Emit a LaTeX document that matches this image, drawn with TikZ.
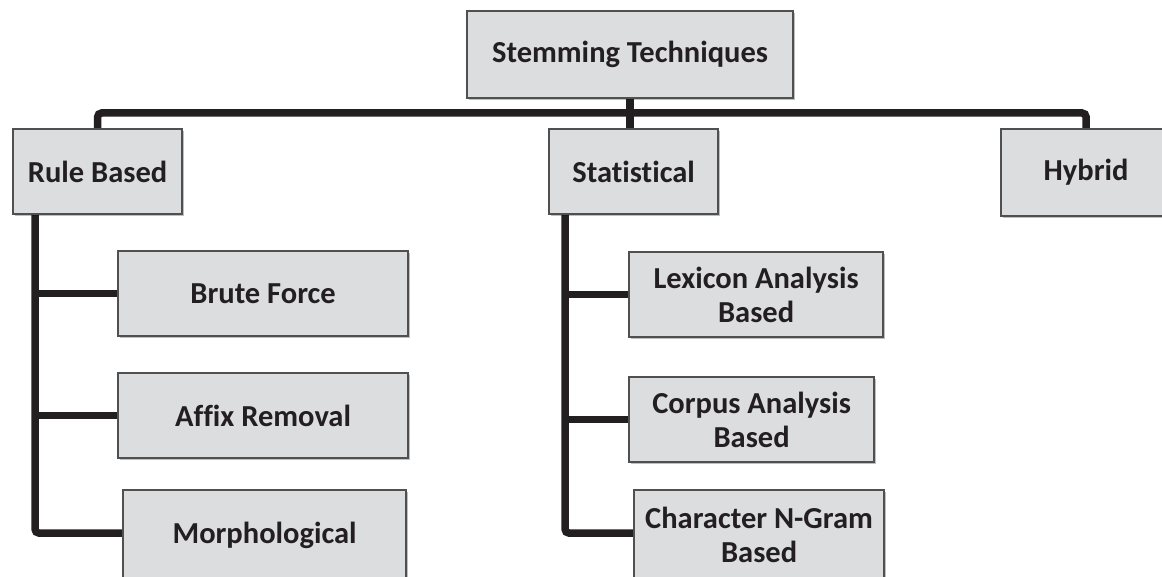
\documentclass[tikz,border=0pt]{standalone}
\usepackage{fontspec}
\setmainfont[Ligatures={NoCommon}]{Carlito}
\usetikzlibrary{shadows,calc,backgrounds}
\definecolor{boxfill}{HTML}{DCDDDF}
\definecolor{boxline}{HTML}{505050}
\definecolor{ink}{HTML}{231F20}
\begin{document}
\begin{tikzpicture}[x=1pt,y=-1pt,
  tbox/.style={draw=boxline, line width=2.2pt, fill=boxfill, anchor=north west,
    font=\bfseries\fontsize{30.5}{34}\selectfont, text=ink, align=center, inner sep=0pt,
    drop shadow={shadow xshift=2pt, shadow yshift=-2pt, opacity=0.25, fill=black}},
  conn/.style={line width=7.5pt, draw=ink, rounded corners=4pt}]
  \useasboundingbox (0,0) rectangle (1162,577);
  \clip (0,0) rectangle (1162,577);

  % root and first level
  \node[tbox, minimum width=326pt, minimum height=87pt] (top) at (466,10) {Stemming Techniques};
  \node[tbox, minimum width=169pt, minimum height=85pt] (rule) at (12,128) {Rule Based};
  \node[tbox, minimum width=169pt, minimum height=85pt] (stat) at (548,128) {Statistical};
  \node[tbox, minimum width=170pt, minimum height=87pt] (hybrid) at (1000,128) {Hybrid};

  % rule based family
  \node[tbox, minimum width=290pt, minimum height=85pt] (brute) at (117,250) {Brute Force};
  \node[tbox, minimum width=290pt, minimum height=85pt] (affix) at (117,372) {Affix Removal};
  \node[tbox, minimum width=283pt, minimum height=90pt] (morph) at (122,489) {Morphological};

  % statistical family
  \node[tbox, minimum width=254pt, minimum height=85pt] (lex) at (628,251) {Lexicon Analysis\\Based};
  \node[tbox, minimum width=245pt, minimum height=85pt] (corpus) at (628,376) {Corpus Analysis\\Based};
  \node[tbox, minimum width=250pt, minimum height=90pt] (chargram) at (633,489) {Character N-Gram\\Based};

  % connectors, kept behind the boxes
  \begin{scope}[on background layer]
    \coordinate (bus) at (0,113);
    \draw[conn] (top.south) -- (top.south |- stat.north);
    \draw[conn] (rule.north) -- (rule.north |- bus) -| (hybrid.north);

    \draw[conn] ($(rule.south west)+(23,0)$) coordinate (rt) |- ($(morph.west)+(0,-2)$);
    \draw[conn] (brute.west) -- (brute.west -| rt);
    \draw[conn] (affix.west) -- (affix.west -| rt);

    \draw[conn] ($(stat.south west)+(17,0)$) coordinate (st) |- ($(chargram.west)+(0,-2)$);
    \draw[conn] (lex.west) -- (lex.west -| st);
    \draw[conn] (corpus.west) -- (corpus.west -| st);
  \end{scope}
\end{tikzpicture}
\end{document}
